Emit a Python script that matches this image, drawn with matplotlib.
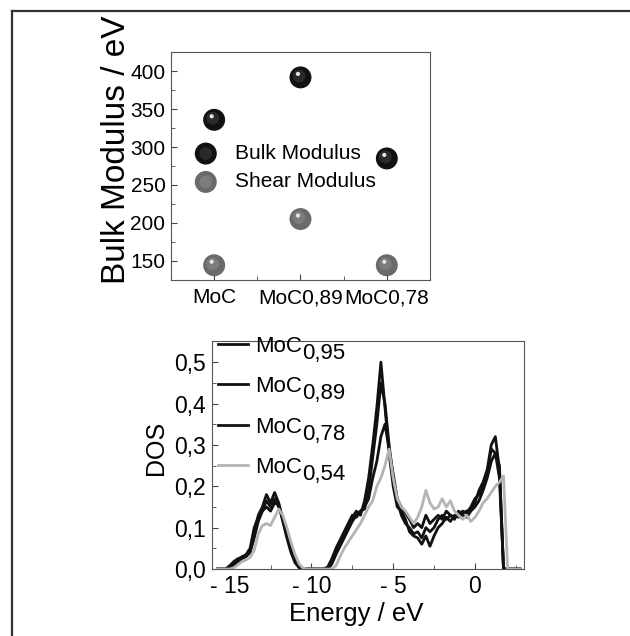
import numpy as np
import matplotlib
matplotlib.use('Agg')
import matplotlib.pyplot as plt
from matplotlib.lines import Line2D
from matplotlib.legend_handler import HandlerTuple
from matplotlib.transforms import offset_copy

plt.rcParams['font.family'] = ['Liberation Sans', 'DejaVu Sans']

# --- top panel data
compounds = ['MoC', 'MoC0,89', 'MoC0,78']
bulk = [336, 392, 285]
shear = [144, 205, 144]

# --- bottom panel data (DOS)
energy = [-15.75, -15.5, -15.25, -15.0, -14.75, -14.5, -14.25, -14.0,
          -13.75, -13.5, -13.25, -13.0, -12.75, -12.5, -12.25, -12.0,
          -11.75, -11.5, -11.25, -11.0, -10.75, -10.5, -10.25, -10.0,
          -9.75, -9.5, -9.25, -9.0, -8.75, -8.5, -8.25, -8.0,
          -7.75, -7.5, -7.25, -7.0, -6.75, -6.5, -6.25, -6.0,
          -5.75, -5.5, -5.25, -5.0, -4.75, -4.5, -4.25, -4.0,
          -3.75, -3.5, -3.25, -3.0, -2.75, -2.5, -2.25, -2.0,
          -1.75, -1.5, -1.25, -1.0, -0.75, -0.5, -0.25, 0.0,
          0.25, 0.5, 0.75, 1.0, 1.25, 1.5, 1.75, 2.0,
          2.25, 2.5, 2.75]

dos_095 = [0, 0, 0, 0.005, 0.015, 0.022, 0.03, 0.033,
           0.045, 0.09, 0.13, 0.15, 0.18, 0.16, 0.185, 0.16,
           0.12, 0.08, 0.045, 0.02, 0.005, 0, 0, 0,
           0, 0, 0, 0.003, 0.02, 0.045, 0.065, 0.085,
           0.1, 0.125, 0.14, 0.13, 0.165, 0.22, 0.3, 0.39,
           0.5, 0.39, 0.28, 0.2, 0.15, 0.14, 0.12, 0.09,
           0.08, 0.075, 0.06, 0.08, 0.055, 0.08, 0.1, 0.11,
           0.125, 0.115, 0.13, 0.125, 0.135, 0.14, 0.145, 0.16,
           0.19, 0.21, 0.24, 0.3, 0.32, 0.24, 0, 0,
           0, 0, 0]

dos_089 = [0, 0, 0, 0.003, 0.01, 0.018, 0.025, 0.03,
           0.04, 0.075, 0.115, 0.14, 0.165, 0.15, 0.17, 0.15,
           0.125, 0.085, 0.05, 0.025, 0.008, 0, 0, 0,
           0, 0, 0, 0, 0.012, 0.035, 0.055, 0.075,
           0.095, 0.115, 0.13, 0.14, 0.145, 0.19, 0.27, 0.35,
           0.45, 0.4, 0.3, 0.22, 0.165, 0.13, 0.11, 0.1,
           0.085, 0.09, 0.075, 0.1, 0.09, 0.1, 0.12, 0.13,
           0.12, 0.13, 0.125, 0.13, 0.14, 0.135, 0.15, 0.17,
           0.18, 0.2, 0.23, 0.29, 0.28, 0.25, 0, 0,
           0, 0, 0]

dos_078 = [0, 0, 0, 0.008, 0.018, 0.025, 0.028, 0.035,
           0.05, 0.1, 0.125, 0.14, 0.15, 0.14, 0.16, 0.155,
           0.115, 0.075, 0.04, 0.015, 0.003, 0, 0, 0,
           0, 0, 0, 0.005, 0.025, 0.05, 0.07, 0.09,
           0.11, 0.13, 0.125, 0.14, 0.15, 0.17, 0.22, 0.26,
           0.32, 0.35, 0.29, 0.23, 0.17, 0.15, 0.135, 0.12,
           0.1, 0.11, 0.1, 0.13, 0.11, 0.12, 0.13, 0.12,
           0.14, 0.13, 0.12, 0.14, 0.13, 0.125, 0.14, 0.15,
           0.165, 0.19, 0.22, 0.26, 0.28, 0.22, 0, 0,
           0, 0, 0]

dos_054 = [0, 0, 0, 0, 0.003, 0.01, 0.018, 0.022,
           0.028, 0.045, 0.085, 0.105, 0.11, 0.105, 0.125, 0.145,
           0.13, 0.1, 0.065, 0.035, 0.012, 0.002, 0, 0,
           0, 0, 0, 0, 0, 0.008, 0.03, 0.05,
           0.065, 0.08, 0.095, 0.11, 0.13, 0.15, 0.165, 0.2,
           0.22, 0.25, 0.29, 0.22, 0.17, 0.15, 0.14, 0.125,
           0.11, 0.125, 0.15, 0.19, 0.16, 0.145, 0.15, 0.17,
           0.15, 0.165, 0.14, 0.13, 0.12, 0.13, 0.115, 0.125,
           0.14, 0.16, 0.17, 0.185, 0.2, 0.21, 0.225, 0,
           0, 0, 0]

dos_series = [dos_095, dos_089, dos_078, dos_054]
dos_names = ['MoC', 'MoC', 'MoC', 'MoC']
dos_subs = ['0,95', '0,89', '0,78', '0,54']
dos_colors = ['#111111', '#111111', '#111111', '#b4b4b4']

fig = plt.figure(figsize=(6.3, 6.36), dpi=100)

# frame lines of the original figure (only top and left survive the crop)
fig.add_artist(Line2D([0.019, 1.0], [0.9827, 0.9827], transform=fig.transFigure,
                      color='#333333', lw=1.6))
fig.add_artist(Line2D([0.019, 0.019], [0.0, 0.9827], transform=fig.transFigure,
                      color='#333333', lw=1.6))

# ---------------- top panel
ax1 = fig.add_axes([0.2714, 0.5597, 0.4111, 0.3585])
xpos = np.arange(1, len(compounds) + 1)

def spheres(ax, x, y, dark, mid):
    main = ax.scatter(x, y, s=250, color=dark, edgecolors='none', zorder=3)
    tr = offset_copy(ax.transData, fig=fig, x=-1.5, y=1.5, units='dots')
    m2 = ax.scatter(x, y, s=85, color=mid, edgecolors='none', zorder=4, transform=tr)
    tr2 = offset_copy(ax.transData, fig=fig, x=-2.5, y=3.5, units='dots')
    ax.scatter(x, y, s=9, color='#e6e6e6', edgecolors='none', zorder=5, transform=tr2)
    return main, m2

hb = spheres(ax1, xpos, bulk, '#111111', '#2a2a2a')
hs = spheres(ax1, xpos, shear, '#6a6a6a', '#7c7c7c')

ax1.set_xlim(0.5, 3.5)
ax1.set_ylim(124.5, 425.5)
ax1.set_xticks(xpos)
ax1.set_xticklabels(compounds)
ax1.set_xticks([1.5, 2.5], minor=True)
ax1.set_yticks([150, 200, 250, 300, 350, 400])
ax1.set_yticks([175, 225, 275, 325, 375], minor=True)
ax1.tick_params(which='both', direction='in', labelsize=15, color='#444444', pad=4)
ax1.tick_params(axis='x', pad=6)
ax1.tick_params(which='major', length=4)
ax1.tick_params(which='minor', length=3)
ax1.set_ylabel('Bulk Modulus / eV', fontsize=24)
ax1.yaxis.set_label_coords(-0.152, 0.57)
for sp in ax1.spines.values():
    sp.set_color('#555555')

ax1.legend([hb, hs], ['Bulk Modulus', 'Shear Modulus'],
           handler_map={tuple: HandlerTuple(ndivide=1)},
           loc='upper left', bbox_to_anchor=(0.062, 0.633), borderaxespad=0,
           frameon=False, fontsize=15, scatterpoints=1, handlelength=1.0,
           handletextpad=0.9, labelspacing=0.45)

# ---------------- bottom panel
ax2 = fig.add_axes([0.336, 0.1053, 0.4957, 0.3585])
handles = []
for vals, col in zip(dos_series, dos_colors):
    h, = ax2.plot(energy, vals, color=col, lw=2.0)
    handles.append(h)

ax2.set_xlim(-16.1, 3.0)
ax2.set_ylim(0, 0.551)
ax2.set_xticks([-15, -10, -5, 0])
ax2.set_xticklabels(['- 15', '- 10', '- 5', '0'])
ax2.set_xticks([-12.5, -7.5, -2.5, 2.5], minor=True)
ax2.set_yticks([0, 0.1, 0.2, 0.3, 0.4, 0.5])
ax2.set_yticklabels(['0,0', '0,1', '0,2', '0,3', '0,4', '0,5'])
ax2.set_yticks([0.05, 0.15, 0.25, 0.35, 0.45], minor=True)
ax2.tick_params(which='both', direction='in', labelsize=16.5, color='#444444', pad=4)
ax2.tick_params(which='major', length=4)
ax2.tick_params(which='minor', length=3)
ax2.set_xlabel('Energy / eV', fontsize=18.5)
ax2.xaxis.set_label_coords(0.464, -0.145)
ax2.set_ylabel('DOS', fontsize=18)
ax2.yaxis.set_label_coords(-0.14, 0.53)
for sp in ax2.spines.values():
    sp.set_color('#555555')

leg = ax2.legend(handles, dos_names, loc='upper left', bbox_to_anchor=(0.006, 1.042),
                 borderaxespad=0, borderpad=0.2, frameon=False, fontsize=16,
                 handlelength=1.35, handletextpad=0.32, labelspacing=0.87)
for txt, sub in zip(leg.get_texts(), dos_subs):
    ax2.annotate(sub, xy=(1, 0), xycoords=txt, xytext=(0, -5),
                 textcoords='offset points', ha='left', va='bottom', fontsize=16,
                 zorder=10, annotation_clip=False)

fig.savefig('out.png', dpi=100)
